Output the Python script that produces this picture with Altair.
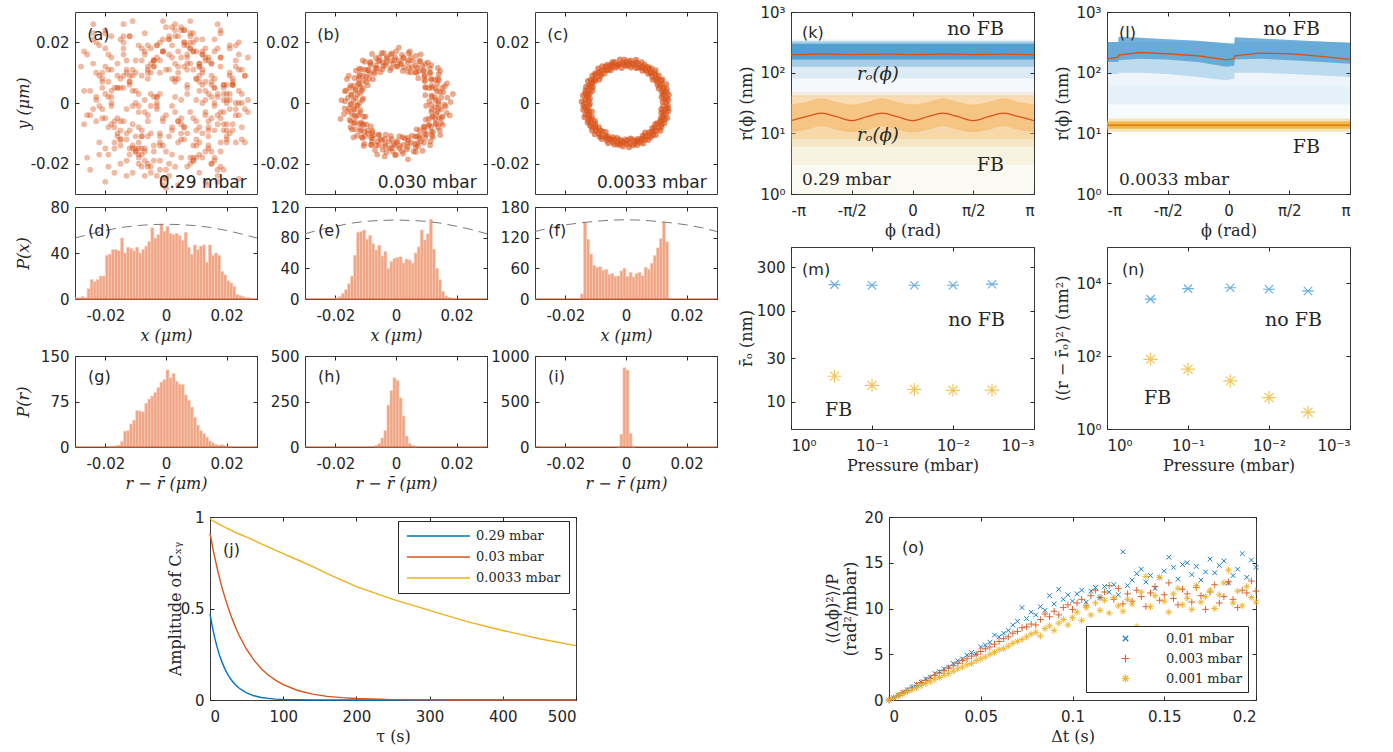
import math
import altair as alt
import pandas as pd

BLUE = "#0072BD"
RED = "#D95319"
YEL = "#EDB120"
INK = "#262626"
SANS = "DejaVu Sans"
SERIF = "DejaVu Serif"
PI = math.pi

# ---------------- (a)-(c) particle positions (nm) ----------------
a_x_nm = [-12, 7, 23, -25, 3, -8, 15, -19, 0, 11, -3, 26, -15, 9, -22, 18, -6, 4, 13, -27,
          21, -10, 6, -1, 16, -18, 25, -5, 10, -13, 2, 19, -24, 8, -7, 14, -20, 27, -2, 12,
          -16, 5, -9, 22, -26, 1, 17, -11, 24, -4, 9, -21, 15, -14, 3, 20, -8, 11, -23, 6,
          -17, 26, 0, 13, -6, 18, -12, 7, -28, 22, -3, 16, -19, 4, 10, -15, 25, -1, 8, -24,
          14, -9, 21, -5, 2, -13, 19, -20, 12, 5, -7, 27, -16, 9, -2, 15, -25, 6, 23, -11,
          1, 18, -14, 11, -22, 3, 20, -4, 13, -18, 8, -27, 24, -10, 17, -6, 0, 14, -21, 10,
          -3, 26, -12, 7, -17, 4, 19, -8, 12, -23, 16, -1, 22, -15, 5, -9, 25, -19, 2, 13,
          -5, 21, -26, 9, -13, 17, -2, 11, -20, 6, 24, -7, 15, -11, 3, -24, 18, -16, 8, 1,
          -10, 20, -4, 14, -18, 27, -6, 10, -14, 23, -22, 5, -1, 16, -9, 12, -25, 7, 19, -12,
          2, -17, 21, -3, 9, -20, 15, -8, 26, -15, 4, 11, -27, 18, -5, 13, -11, 22, -2, 6,
          -19, 24, -7, 17, -13, 0, 10, -23, 14, -4, 20, -16, 8, -10, 25, -6, 3, -21, 12, -1,
          18, -14, 7, -26, 15, -9, 23, -3, 11, -18, 5, 20, -12, 1, -8, 16, -2, 9, -15, 4,
          -4, 17, -20, 8, 1, -13, 22, -9, 12, -17, 5, 19, -2, -23, 10, -6, 14, -11, 3, 24,
          -15, 7, -1, 20, -18, 9, -7, 15, -21, 2, 11, -5, 25, -14, 6, -10, 18, -3, 13, -19,
          0, 21, -8, 16, -12, 4, -22, 9, -4, 23, -16, 11, 1, -9, 17, -6, 14, -20, 7, -2,
          19, -13, 5, -24, 12, -7, 20, -1, 8, -15, 15, -11, 3, 22, -18, 10, -5, 16, -8, 2,
          -21, 13, -3, 18, -10, 6, 24, -14, 0, 11, -6, 17, -19, 4, -12, 21, -2, 9, -16, 14,
          -9, 5, 19, -4, -22, 12, -7, 1, 16, -13, 8, -1, 23, -17, 10, -11, 3, 18, -5, 13,
          -20, 7, -8, 15, -3, 20, -14, 2, 11, -18, 6, -10, 22, -6, 14, -2, 9, -23, 17, -12,
          4, -15, 12, -7, 19, 0, -11, 16, -4, 7, -19, 21, -9, 3, 13, -16, 10, -1, 24, -13,
          5, -8, 18, -21, 8, -3, 15, -10, 1, 20, -6, 12, -17, 6, -14, 17, -2, 10, -20, 14,
          -5, 23, -12, 2, -7, 11, -24, 19, -9, 4, 16, -15, 8, -1, 21, -11, 13, -4, 7, -18]
a_y_nm = [9, -21, 14, -4, 26, -17, 2, 11, -25, -8, 19, -13, 5, 23, -1, -16, 12, -27, 7, 17,
          -10, 0, 24, -6, -19, 15, -12, 3, 21, -24, 8, -3, 13, 27, -15, -9, 18, 1, -22, 10,
          -5, 25, -18, 6, 16, -11, -26, 4, 20, -14, 11, -2, -20, 22, 7, -7, 14, -23, 2, 19,
          -13, 9, -28, 15, -4, 24, -17, 5, 12, -9, 0, 21, -21, 8, 17, -12, 3, -25, 13, 26,
          -6, -15, 10, 18, -1, -19, 6, 23, -10, 1, -24, 15, 9, -5, 20, -16, 4, -8, 12, 27,
          -20, -3, 16, 7, -13, 22, -11, 2, -26, 11, 18, -7, 0, 14, -22, 8, 25, -14, 5, -18,
          19, -2, -9, 13, -23, 10, 3, -15, 21, -6, 17, -27, 6, -12, 24, -1, 11, -17, 15, 1,
          -21, 9, -4, 20, -10, 26, -19, 4, 12, -8, -25, 16, 7, -14, 2, 23, -5, -11, 18, -24,
          10, 0, -16, 14, 22, -3, -20, 8, 5, -13, 19, -7, 27, -18, 3, 11, -22, 15, -9, 6,
          25, -15, 1, -2, 17, -26, 13, -11, 9, 21, -6, -17, 4, 12, -23, 18, -1, 7, -14, 24,
          -8, 16, -19, 2, 10, -4, -12, 20, -27, 14, 6, -10, 23, -16, 0, 11, -21, 8, 17, -5,
          -13, 26, 3, -18, 13, -3, 19, -24, 9, -7, 15, 1, -15, 22, -9, 5, -11, 17, -6, 12,
          12, -7, 3, -18, 21, -2, 8, -13, 16, 5, -10, -22, 14, 1, -6, 19, -15, 9, -3, 11,
          -20, 6, 17, -9, 2, -14, 23, -5, 10, -17, 13, -1, -8, 20, -12, 4, -21, 15, -4, 7,
          -16, 18, -11, 0, 22, -6, 9, -19, 12, -2, 5, -13, 16, -8, -24, 10, 3, -15, 19, -10,
          6, 14, -5, 21, -18, 1, -12, 17, -3, 8, -20, 11, 24, -7, 4, -14, 13, -1, 18, -9,
          7, -16, 2, 15, -11, 20, -4, 9, -22, 12, -6, 3, 16, -13, 22, -2, 10, -18, 5, -8,
          19, -12, 1, 14, -17, 6, -3, 21, -9, 11, -20, 17, 0, -6, 8, -15, 13, 23, -10, 4,
          -5, 16, -21, 9, 2, -13, 18, -8, 12, -1, 20, -16, 6, -11, 15, 3, -19, 10, -4, 7,
          22, -14, 0, 17, -7, 11, -23, 5, 14, -10, 2, 19, -17, 8, -3, 13, -9, 21, 4, -12,
          -18, 9, 15, -5, 20, -1, 6, -15, 11, 3, -21, 16, -8, 12, -6, 18, -13, 1, 24, -11,
          10, -4, 7, 19, -16, 13, -2, 5, -20, 17, 8, -9, 22, -14, 3, -7, 14, -19, 11, 0]

b_angle_deg = [2, 3, 6, 8, 9, 12, 14, 15, 18, 20, 21, 24, 26, 28, 29, 31, 34, 35, 37, 40,
               42, 43, 46, 48, 49, 52, 54, 55, 58, 60, 62, 63, 66, 68, 69, 72, 74, 76, 77, 80,
               82, 83, 86, 88, 90, 91, 94, 96, 97, 100, 102, 104, 105, 108, 110, 112, 113, 116, 118, 119,
               122, 124, 126, 127, 130, 132, 133, 136, 138, 140, 141, 144, 146, 148, 149, 152, 154, 155, 158, 160,
               162, 163, 166, 168, 169, 172, 174, 176, 177, 180, 182, 183, 186, 188, 190, 191, 194, 196, 198, 199,
               202, 204, 205, 208, 210, 212, 213, 216, 218, 219, 222, 224, 226, 227, 230, 232, 234, 235, 238, 240,
               241, 244, 246, 248, 249, 252, 254, 255, 258, 260, 262, 263, 266, 268, 270, 271, 274, 276, 277, 280,
               282, 284, 285, 288, 290, 291, 294, 296, 298, 299, 302, 304, 305, 308, 310, 312, 313, 316, 318, 320,
               321, 324, 326, 327, 330, 332, 334, 335, 338, 340, 341, 344, 346, 348, 349, 352, 354, 355, 358, 359,
               1, 4, 7, 10, 13, 16, 19, 23, 25, 27, 30, 33, 36, 39, 41, 44, 47, 50, 53, 56,
               59, 61, 64, 67, 70, 73, 75, 78, 81, 84, 87, 89, 92, 95, 98, 101, 103, 106, 109, 111,
               114, 117, 120, 123, 125, 128, 131, 134, 137, 139, 142, 145, 147, 150, 153, 156, 159, 161, 164, 167,
               170, 173, 175, 178, 181, 184, 187, 189, 192, 195, 197, 200, 203, 206, 209, 211, 214, 217, 220, 223,
               225, 228, 231, 233, 236, 239, 242, 245, 247, 250, 253, 256, 259, 261, 264, 267, 269, 272, 275, 278,
               281, 283, 286, 289, 292, 295, 297, 300, 303, 306, 309, 311, 314, 317, 319, 322, 325, 328, 331, 333,
               336, 339, 342, 345, 347, 350, 353, 356, 357]
b_radius_nm = [14, 11, 17, 13, 19, 12, 15, 10, 16, 14, 18, 12, 13, 16, 11, 15, 17, 14, 12, 18,
               15, 13, 16, 11, 14, 17, 13, 15, 12, 16, 14, 18, 13, 15, 11, 16, 14, 17, 12, 15,
               13, 16, 14, 12, 17, 15, 13, 16, 14, 11, 15, 17, 13, 14, 16, 12, 15, 18, 14, 13,
               16, 15, 12, 17, 14, 13, 15, 16, 12, 14, 17, 15, 13, 11, 16, 14, 18, 13, 15, 12,
               16, 14, 17, 13, 15, 11, 16, 14, 18, 12, 15, 13, 17, 14, 16, 12, 15, 19, 13, 14,
               16, 11, 15, 17, 14, 13, 16, 12, 15, 18, 14, 13, 16, 15, 12, 17, 14, 13, 15, 16,
               12, 14, 17, 15, 13, 11, 16, 14, 18, 13, 15, 12, 16, 14, 17, 13, 15, 11, 16, 14,
               19, 12, 15, 13, 17, 14, 16, 12, 15, 18, 13, 14, 16, 11, 15, 17, 14, 13, 16, 12,
               15, 18, 14, 13, 16, 15, 12, 17, 14, 13, 15, 16, 12, 14, 17, 15, 13, 10, 16, 14,
               18, 13, 15, 12, 16, 14, 17, 13, 15, 11, 16, 14, 18, 12, 15, 13, 17, 14, 16, 12,
               13.5, 15.8, 11.2, 16.9, 12.4, 14.7, 17.6, 10.8, 15.1, 13.0, 18.3, 12.1, 14.2, 16.4, 11.7, 15.5, 13.8, 17.1, 12.8, 14.9,
               16.2, 11.4, 13.3, 15.7, 12.6, 17.8, 14.4, 10.9, 16.6, 13.1, 15.2, 12.0, 14.6, 18.0, 13.7, 11.9, 16.0, 14.1, 12.3, 17.3,
               15.0, 13.4, 11.1, 16.8, 14.8, 12.7, 15.6, 13.9, 17.5, 12.2, 14.3, 16.3, 11.6, 15.3, 13.2, 17.0, 12.9, 14.5, 16.7, 11.3,
               15.9, 13.6, 12.5, 17.7, 14.0, 16.1, 11.8, 15.4, 13.0, 18.1, 12.4, 14.7, 16.5, 11.0, 15.0, 13.5, 17.2, 12.6, 14.2, 16.9,
               11.5, 15.7, 13.8, 12.1, 17.4, 14.9, 16.0, 12.8, 15.1, 13.3, 17.9, 11.9, 14.4, 16.6, 12.3, 15.5, 13.1, 17.0, 11.2, 14.6,
               16.2, 12.7, 15.8, 13.7, 18.2, 12.0, 14.1, 16.4, 11.6, 15.2, 13.4, 17.6, 12.5, 14.8, 16.8, 11.4, 15.6, 13.9, 12.2, 17.1,
               14.3, 16.1, 11.7, 15.3, 13.6, 17.8, 12.9, 14.0, 16.7]

c_angle_deg = [1, 2, 4, 6, 7, 9, 11, 12, 14, 15, 17, 19, 20, 22, 24, 25, 27, 28, 30, 32,
               33, 35, 37, 38, 40, 41, 43, 45, 46, 48, 50, 51, 53, 54, 56, 58, 59, 61, 63, 64,
               66, 67, 69, 71, 72, 74, 76, 77, 79, 80, 82, 84, 85, 87, 89, 90, 92, 93, 95, 97,
               98, 100, 102, 103, 105, 106, 108, 110, 111, 113, 115, 116, 118, 119, 121, 123, 124, 126, 128, 129,
               131, 132, 134, 136, 137, 139, 141, 142, 144, 145, 147, 149, 150, 152, 154, 155, 157, 158, 160, 162,
               163, 165, 167, 168, 170, 171, 173, 175, 176, 178, 180, 181, 183, 184, 186, 188, 189, 191, 193, 194,
               196, 197, 199, 201, 202, 204, 206, 207, 209, 210, 212, 214, 215, 217, 219, 220, 222, 223, 225, 227,
               228, 230, 232, 233, 235, 236, 238, 240, 241, 243, 245, 246, 248, 249, 251, 253, 254, 256, 258, 259,
               261, 262, 264, 266, 267, 269, 271, 272, 274, 275, 277, 279, 280, 282, 284, 285, 287, 288, 290, 292,
               293, 295, 297, 298, 300, 301, 303, 305, 306, 308, 310, 311, 313, 314, 316, 318, 319, 321, 323, 324,
               326, 327, 329, 331, 332, 334, 336, 337, 339, 340, 342, 344, 345, 347, 349, 350, 352, 353, 355, 357]
c_radius_nm = [13.2, 12.1, 14.0, 12.8, 13.6, 11.9, 14.4, 12.5, 13.0, 13.9, 12.3, 14.2, 12.9, 13.5, 11.8, 14.6, 12.6, 13.3, 12.0, 13.8,
               14.3, 12.4, 13.1, 12.7, 14.1, 11.7, 13.4, 12.2, 13.7, 14.5, 12.8, 13.0, 12.1, 14.2, 13.6, 12.5, 13.9, 12.9, 11.9, 14.0,
               13.3, 12.6, 14.4, 12.3, 13.5, 12.0, 13.8, 14.6, 12.7, 13.1, 11.8, 14.1, 13.4, 12.4, 13.7, 12.2, 14.3, 12.8, 13.2, 11.6,
               14.5, 12.9, 13.0, 12.5, 13.9, 12.1, 14.2, 13.6, 12.6, 13.3, 11.9, 14.0, 12.3, 13.8, 12.7, 14.4, 13.1, 12.0, 13.5, 14.6,
               12.4, 13.4, 12.2, 14.1, 13.7, 11.7, 14.3, 12.8, 13.2, 12.5, 13.9, 12.9, 14.5, 13.0, 12.1, 13.6, 12.6, 14.2, 11.8, 13.3,
               14.0, 12.3, 13.8, 12.7, 14.4, 13.1, 12.0, 13.5, 12.4, 14.6, 13.4, 11.9, 14.1, 12.2, 13.7, 12.8, 14.3, 13.2, 12.5, 11.6,
               13.9, 12.9, 14.5, 13.0, 12.1, 13.6, 12.6, 14.2, 13.3, 11.8, 14.0, 12.3, 13.8, 12.7, 14.4, 13.1, 12.0, 13.5, 14.6, 12.4,
               13.4, 12.2, 14.1, 13.7, 11.7, 14.3, 12.8, 13.2, 12.5, 13.9, 12.9, 14.5, 13.0, 12.1, 13.6, 12.6, 14.2, 11.9, 13.3, 14.0,
               12.3, 13.8, 12.7, 14.4, 13.1, 12.0, 13.5, 12.4, 14.6, 13.4, 11.8, 14.1, 12.2, 13.7, 12.8, 14.3, 13.2, 12.5, 13.9, 12.9,
               14.5, 13.0, 12.1, 13.6, 12.6, 14.2, 11.6, 13.3, 14.0, 12.3, 13.8, 12.7, 14.4, 13.1, 12.0, 13.5, 12.4, 14.6, 13.4, 11.9,
               14.1, 12.2, 13.7, 12.8, 14.3, 13.2, 12.5, 13.9, 12.9, 14.5, 13.0, 12.1, 13.6, 12.6, 14.2, 11.8, 13.3, 14.0, 12.3, 13.8]

# ---------------- histograms (1 nm bins; first left edge in nm) ----------------
d_first_edge = -30
d_counts = [1, 1, 2, 1, 9, 17, 15, 17, 20, 20, 38, 39, 43, 43, 42, 53, 40, 45, 44, 42,
            45, 40, 43, 46, 50, 62, 53, 56, 65, 59, 63, 57, 56, 57, 55, 51, 58, 45, 39, 47,
            43, 46, 47, 32, 47, 38, 40, 38, 24, 21, 16, 14, 11, 4, 3, 2, 1, 1]
e_first_edge = -20
e_counts = [1, 3, 7, 12, 20, 30, 57, 87, 88, 90, 78, 83, 72, 64, 70, 56, 62, 40, 49, 53,
            54, 55, 47, 52, 51, 47, 60, 68, 90, 77, 85, 104, 65, 40, 25, 10, 4, 2, 1]
f_first_edge = -15
f_counts = [10, 150, 117, 88, 66, 62, 63, 56, 58, 48, 50, 44, 45, 55, 60, 44, 52, 43, 50, 52,
            45, 62, 58, 70, 85, 100, 118, 150, 112]
g_first_edge = -19
g_counts = [1, 1, 2, 3, 9, 26, 27, 38, 44, 60, 59, 58, 72, 79, 84, 90, 98, 107, 111, 127,
            114, 121, 108, 103, 103, 86, 77, 66, 49, 36, 27, 22, 16, 10, 7, 4, 3, 4, 2, 1, 1]
h_first_edge = -7
h_counts = [8, 20, 50, 90, 230, 310, 380, 365, 270, 170, 60, 20, 8, 3]
i_first_edge = -3
i_counts = [2, 140, 870, 845, 150, 2]

env_x = [-0.03, -0.025, -0.02, -0.015, -0.01, -0.005, 0, 0.005, 0.01, 0.015, 0.02, 0.025, 0.03]
d_env = [53, 56.5, 59.6, 62.1, 63.7, 64.7, 65, 64.7, 63.7, 62.1, 59.6, 56.5, 53]
e_env = [85, 90.5, 94.8, 98.8, 101.3, 102.5, 103, 102.5, 101.3, 98.8, 94.8, 90.5, 85]
f_env = [132, 139.5, 145, 149, 152, 154.3, 155, 154.3, 152, 149, 145, 139.5, 132]

# ---------------- (k), (l) radius clouds (nm) ----------------
phi17 = [-3.1416, -2.7489, -2.3562, -1.9635, -1.5708, -1.1781, -0.7854, -0.3927, 0.0,
         0.3927, 0.7854, 1.1781, 1.5708, 1.9635, 2.3562, 2.7489, 3.1416]
phi_ends = [-3.1416, 3.1416]
k_ro_nofb = [198, 200, 203, 201, 199, 200, 202, 201, 198, 200, 203, 201, 199, 200, 202, 200, 198]
k_ro_fb = [16.2, 18.8, 21.5, 18.8, 16.2, 18.8, 21.5, 18.8, 16.2, 18.8, 21.5, 18.8, 16.2, 18.8, 21.5, 18.8, 16.2]
k_core_fb_lo = [10.5, 11.5, 13, 11.5, 10.5, 11.5, 13, 11.5, 10.5, 11.5, 13, 11.5, 10.5, 11.5, 13, 11.5, 10.5]
k_core_fb_hi = [30, 33, 38, 33, 30, 33, 38, 33, 30, 33, 38, 33, 30, 33, 38, 33, 30]
k_blue_lo = [40, 80, 125, 165]
k_blue_hi = [360, 340, 325, 300]
k_fb_lo = [1, 3, 6, 8]
k_fb_hi = [8, 12, 48, 42]

phi_l = [-3.1416, -2.85, -2.84, -2.3, -1.6, -0.8, -0.05, 0.15, 0.16, 0.8, 1.6, 2.4, 3.1416]
l_core_lo = [150, 150, 160, 170, 165, 150, 125, 130, 165, 170, 160, 150, 140]
l_core_hi = [320, 320, 390, 375, 355, 335, 305, 300, 385, 365, 345, 325, 310]
l_mid_lo = [95, 95, 100, 100, 95, 85, 75, 80, 100, 100, 95, 90, 85]
l_ro = [168, 180, 195, 215, 205, 190, 163, 170, 190, 210, 205, 185, 165]
l_flat_lo = [10, 30]
l_flat_hi = [60, 320]
l_fb_lo = [10.6, 11.9]
l_fb_hi = [17.5, 15.6]
l_ro_fb = 13.6

# ---------------- (m), (n) ----------------
pressure = [0.29, 0.1, 0.03, 0.01, 0.0033]
m_nofb = [193, 190, 190, 190, 195]
m_fb = [19.0, 15.1, 13.6, 13.3, 13.4]
n_nofb = [3700, 7200, 7600, 6900, 6200]
n_fb = [82, 44, 21, 7.3, 2.9]

# ---------------- (j) ----------------
j_labels = ["0.29 mbar", "0.03 mbar", "0.0033 mbar"]
j_tau = [0, 2, 4, 6, 8, 10, 13, 16, 20, 25, 30, 35, 40, 50, 60, 70, 80, 90, 100, 120,
         140, 160, 180, 200, 250, 300, 350, 400, 450, 500]
j_029 = [0.470, 0.425, 0.385, 0.348, 0.315, 0.285, 0.245, 0.211, 0.173, 0.135, 0.105, 0.082, 0.064,
         0.039, 0.023, 0.014, 0.009, 0.005, 0.003, 0.001, 0, 0, 0, 0, 0, 0, 0, 0, 0, 0]
j_003 = [0.910, 0.868, 0.827, 0.789, 0.752, 0.717, 0.667, 0.621, 0.565, 0.502, 0.446, 0.396, 0.351,
         0.276, 0.218, 0.171, 0.135, 0.107, 0.084, 0.052, 0.032, 0.020, 0.013, 0.008, 0.002, 0.001, 0, 0, 0, 0]
j_00033 = [0.990, 0.985, 0.980, 0.975, 0.970, 0.967, 0.960, 0.953, 0.945, 0.935, 0.925, 0.915, 0.907,
           0.890, 0.872, 0.853, 0.835, 0.818, 0.800, 0.765, 0.730, 0.690, 0.655, 0.620, 0.550, 0.490,
           0.430, 0.380, 0.335, 0.297]

# ---------------- (o) ----------------
o_labels = ["0.01 mbar", "0.003 mbar", "0.001 mbar"]
o_dt = [0, 0.0025, 0.005, 0.0075, 0.01, 0.0125, 0.015, 0.0175, 0.02, 0.0225, 0.025, 0.0275, 0.03,
        0.0325, 0.035, 0.0375, 0.04, 0.0425, 0.045, 0.0475, 0.05, 0.0525, 0.055, 0.0575, 0.06,
        0.0625, 0.065, 0.0675, 0.07, 0.0725, 0.075, 0.0775, 0.08, 0.0825, 0.085, 0.0875, 0.09,
        0.0925, 0.095, 0.0975, 0.1, 0.1025, 0.105, 0.1075, 0.11, 0.1125, 0.115, 0.1175, 0.12,
        0.1225, 0.125, 0.1275, 0.13, 0.1325, 0.135, 0.1375, 0.14, 0.1425, 0.145, 0.1475, 0.15,
        0.1525, 0.155, 0.1575, 0.16, 0.1625, 0.165, 0.1675, 0.17, 0.1725, 0.175, 0.1775, 0.18,
        0.1825, 0.185, 0.1875, 0.19, 0.1925, 0.195, 0.1975, 0.2]
o_001 = [0.0, 0.25, 0.55, 0.85, 1.1, 1.4, 1.7, 1.95, 2.3, 2.5, 2.9, 3.1, 3.4, 3.6, 4.0, 4.3, 4.5, 4.9,
         5.2, 5.0, 5.8, 6.0, 6.3, 7.1, 6.9, 7.3, 7.6, 8.2, 8.6, 10.1, 8.9, 9.6, 9.3, 10.2, 9.8, 11.4,
         10.5, 12.1, 11.0, 11.5, 10.8, 11.6, 12.0, 10.7, 11.9, 12.3, 11.2, 12.4, 11.8, 12.6, 11.5,
         16.2, 12.5, 13.1, 13.8, 14.3, 12.9, 13.6, 12.2, 13.4, 14.1, 15.6, 14.5, 13.2, 14.8, 15.0,
         13.7, 14.6, 13.1, 14.0, 15.4, 13.9, 14.7, 15.2, 12.8, 13.6, 14.3, 16.0, 13.4, 15.3, 14.5]
o_0003 = [0.0, 0.25, 0.5, 0.8, 1.05, 1.35, 1.6, 1.9, 2.15, 2.4, 2.7, 2.95, 3.2, 3.5, 3.75, 4.0, 4.3,
          4.5, 4.8, 5.0, 5.3, 5.6, 5.8, 6.1, 6.4, 6.7, 6.9, 7.3, 7.5, 7.9, 8.0, 8.3, 8.2, 8.8, 9.4,
          9.1, 9.7, 9.3, 10.1, 10.4, 9.9, 10.6, 11.0, 10.3, 11.4, 12.0, 11.2, 11.8, 12.5, 11.0, 12.2,
          10.5, 11.6, 10.8, 12.0, 11.3, 10.2, 11.7, 12.4, 10.9, 11.5, 12.8, 11.1, 10.4, 12.1, 11.6,
          10.7, 12.3, 11.4, 9.9, 11.8, 12.6, 10.6, 11.3, 12.9, 11.0, 10.1, 12.0, 11.7, 13.0, 11.9]
o_0001 = [0.0, 0.2, 0.45, 0.65, 0.9, 1.1, 1.35, 1.55, 1.8, 2.0, 2.25, 2.45, 2.7, 2.9, 3.15, 3.4, 3.6,
          3.85, 4.0, 4.3, 4.5, 4.7, 5.0, 5.2, 5.5, 5.6, 5.9, 6.2, 6.4, 6.6, 6.9, 7.2, 7.4, 7.0, 7.8,
          8.1, 7.6, 8.4, 8.8, 8.2, 9.0, 9.6, 8.7, 10.1, 9.3, 10.6, 9.8, 10.9, 9.5, 11.2, 10.3, 9.7,
          11.0, 10.5, 8.0, 11.8, 13.5, 10.2, 11.4, 13.4, 10.8, 9.6, 11.6, 12.2, 10.4, 11.1, 9.9, 12.5,
          10.7, 11.3, 12.0, 10.0, 11.5, 12.8, 14.2, 10.6, 11.9, 10.3, 12.4, 11.2, 10.7]

# ---------------- helpers ----------------
HY = "(datum.value < 0 ? '-' : '') + (datum.value == 0 ? '0' : format(abs(datum.value), '.2f'))"
G = "format(datum.value, '~g')"
POW_Y = "datum.value >= 1000 ? '10³' : datum.value >= 100 ? '10²' : datum.value >= 10 ? '10¹' : '10⁰'"
POW_P = "datum.value >= 1 ? '10⁰' : datum.value >= 0.1 ? '10⁻¹' : datum.value >= 0.01 ? '10⁻²' : '10⁻³'"
POW_N = "datum.value >= 10000 ? '10⁴' : datum.value >= 100 ? '10²' : '10⁰'"
PHI = "datum.value < -3 ? '-π' : datum.value < -1 ? '-π/2' : datum.value < 1 ? '0' : datum.value < 3 ? 'π/2' : 'π'"
PHI_TICKS = [-PI, -PI / 2, 0, PI / 2, PI]

XMARK = "M-0.7,-0.7L0.7,0.7M-0.7,0.7L0.7,-0.7"
PLUS = "M-1,0L1,0M0,-1L0,1"
STAR = "M-1,0L1,0M0,-1L0,1M-0.7,-0.7L0.7,0.7M-0.7,0.7L0.7,-0.7"
XBAR = "M-1,0L1,0M-0.7,-0.7L0.7,0.7M-0.7,0.7L0.7,-0.7"
STARBAR = "M-1.1,0L1.1,0M0,-1L0,1M-0.7,-0.7L0.7,0.7M-0.7,0.7L0.7,-0.7"
LEGEND_LINE = "M-1,0L9.5,0"

TX = -41  # y-title anchor, relative to the (inset) axis line
TICK = dict(ticks=True, tickSize=4, tickColor=INK, tickWidth=1, offset=-4, domain=False, grid=False)


def lin(dom):
    return alt.Scale(domain=dom, nice=False, zero=False)


def XA(values, title=None, labels=True, expr=None, **kw):
    d = dict(values=values, labels=labels, labelPadding=9, titlePadding=4, **TICK)
    d["title"] = title
    if expr:
        d["labelExpr"] = expr
    d.update(kw)
    return alt.Axis(**d)


def YA(values, title=None, expr=None, tx=None, **kw):
    d = dict(values=values, labelPadding=6, **TICK)
    d["title"] = title
    if expr:
        d["labelExpr"] = expr
    if tx is not None:
        d["titleX"] = tx
        d["titleBaseline"] = "bottom"
    d.update(kw)
    return alt.Axis(**d)


class Axes:
    """Shared scales; main axes (bottom/left), mirror tick-only axes (top/right), and axis-free encodings."""

    def __init__(self, xscale, yscale, xaxis, yaxis, xvals, yvals):
        self.X = alt.X("x:Q", scale=xscale, axis=xaxis)
        self.Y = alt.Y("y:Q", scale=yscale, axis=yaxis)
        self.Xn = alt.X("x:Q", scale=xscale, axis=None)
        self.Yn = alt.Y("y:Q", scale=yscale, axis=None)
        self.Xt = alt.X("x:Q", scale=xscale, axis=alt.Axis(orient="top", values=xvals, labels=False, title=None, **TICK))
        self.Yr = alt.Y("y:Q", scale=yscale, axis=alt.Axis(orient="right", values=yvals, labels=False, title=None, **TICK))

    def ticks(self, df):
        return alt.Chart(df).mark_point(opacity=0, size=1).encode(x=self.Xt, y=self.Yr)


def panel(layers, w, h):
    return alt.layer(*layers).resolve_axis(x="independent", y="independent").properties(width=w, height=h)


def texts(rows, A, align, font, size, style="normal", opacity=1):
    df = pd.DataFrame({"t": [r[0] for r in rows], "x": [r[1] for r in rows], "y": [r[2] for r in rows]})
    return alt.Chart(df).mark_text(align=align, baseline="middle", font=font, fontSize=size,
                                   fontStyle=style, color=INK, opacity=opacity).encode(x=A.Xn, y=A.Yn, text="t:N")


# ---------------- panels (a)-(c) ----------------
def scatter_panel(xs, ys, letter, plabel, first, size, opac):
    n = min(len(xs), len(ys))
    df = pd.DataFrame({"x": xs[:n], "y": ys[:n]})
    v = [-0.02, 0, 0.02]
    A = Axes(lin([-0.03, 0.03]), lin([-0.03, 0.03]), XA(v, labels=False),
             YA(v, title="y (μm)" if first else None, expr=HY, tx=-48, titleFontStyle="italic"), v, v)
    pts = alt.Chart(df).mark_circle(size=size, opacity=opac, color=RED, clip=True).encode(x=A.X, y=A.Y)
    layers = [pts, A.ticks(df),
              texts([(letter, -0.026, 0.0224)], A, "left", SANS, 16),
              texts([(plabel, 0.0266, -0.0264)], A, "right", SANS, 17)]
    if first:
        # invisible text so this row has the same top overhang as the "10³" labels of (k)
        layers.append(texts([("10³", 0, 0.03)], A, "center", SANS, 15, opacity=0))
    return panel(layers, 182, 182)


def polar_um(angles, radii):
    n = min(len(angles), len(radii))
    xs = [radii[q] * math.cos(math.radians(angles[q])) / 1000 for q in range(n)]
    ys = [radii[q] * math.sin(math.radians(angles[q])) / 1000 for q in range(n)]
    return xs, ys


pa = scatter_panel([v / 1000 for v in a_x_nm], [v / 1000 for v in a_y_nm], "(a)", "0.29 mbar", True, 34, 0.4)
bx, by = polar_um(b_angle_deg, b_radius_nm)
pb = scatter_panel(bx, by, "(b)", "0.030 mbar", False, 34, 0.5)
cx, cy = polar_um(c_angle_deg, c_radius_nm)
pc = scatter_panel(cx, cy, "(c)", "0.0033 mbar", False, 36, 0.65)


# ---------------- histograms ----------------
def hist_panel(first_edge, counts, ymax, yvals, letter, ly, xtitle, ytitle, h, env=None):
    edges = [first_edge + q for q in range(len(counts))]
    df = pd.DataFrame({"x": [e / 1000 for e in edges], "x2": [(e + 1) / 1000 for e in edges], "y": counts})
    xv = [-0.02, 0, 0.02]
    A = Axes(lin([-0.03, 0.03]), lin([0, ymax]),
             XA(xv, title=xtitle, expr=HY, titleFontStyle="italic"),
             YA(yvals, title=ytitle, expr=G, tx=-48, titleFontStyle="italic"), xv, yvals)
    bars = alt.Chart(df).mark_rect(color="#F0A585", stroke="#F8CFBC", strokeWidth=0.6).encode(
        x=A.X, x2="x2:Q", y=A.Y, y2=alt.datum(0))
    base = alt.Chart(pd.DataFrame({"y": [0]})).mark_rule(color=RED, strokeWidth=1.2).encode(y=A.Yn)
    layers = [bars, A.ticks(df), base]
    if env is not None:
        edf = pd.DataFrame({"x": env_x, "y": env})
        layers.append(alt.Chart(edf).mark_line(color="#7a7a7a", strokeDash=[10, 6], strokeWidth=1,
                                               clip=True).encode(x=A.Xn, y=A.Yn))
    layers.append(texts([(letter, -0.0257, ly)], A, "left", SANS, 16))
    return panel(layers, 182, h)


XT = "x (μm)"
RT = "r − r̄ (μm)"
pd_ = hist_panel(d_first_edge, d_counts, 80, [0, 40, 80], "(d)", 59, XT, "P(x)", 92, d_env)
pe = hist_panel(e_first_edge, e_counts, 120, [0, 40, 80, 120], "(e)", 88.7, XT, None, 92, e_env)
pf = hist_panel(f_first_edge, f_counts, 180, [0, 60, 120, 180], "(f)", 133, XT, None, 92, f_env)
pg = hist_panel(g_first_edge, g_counts, 150, [0, 75, 150], "(g)", 115, RT, "P(r)", 91)
ph = hist_panel(h_first_edge, h_counts, 500, [0, 250, 500], "(h)", 385, RT, None, 91)
pi_ = hist_panel(i_first_edge, i_counts, 1000, [0, 500, 1000], "(i)", 770, RT, None, 91)


# ---------------- (k), (l) ----------------
def band(xs, lo, hi, X, Y, color, op, interp="linear"):
    df = pd.DataFrame({"x": xs, "y": lo, "y2": hi})
    return alt.Chart(df).mark_area(color=color, opacity=op, interpolate=interp, clip=True).encode(
        x=X, y=Y, y2="y2:Q")


def line(xs, ys, A, color, width=1.3, interp="monotone"):
    df = pd.DataFrame({"x": xs, "y": ys})
    return alt.Chart(df).mark_line(color=color, strokeWidth=width, interpolate=interp, clip=True).encode(x=A.Xn, y=A.Yn)


def phi_axes():
    yv = [1, 10, 100, 1000]
    return Axes(lin([-PI, PI]), alt.Scale(type="log", domain=[1, 1000], nice=False),
                XA(PHI_TICKS, title="ϕ (rad)", expr=PHI),
                YA(yv, title="r(ϕ) (nm)", expr=POW_Y, tx=TX), PHI_TICKS, yv)


A = phi_axes()
k_layers = []
first = True
for lo, hi, col, op in zip(k_fb_lo, k_fb_hi, ["#DCD27E", "#DCD27E", "#F2A541", "#F2A541"], [0.10, 0.14, 0.16, 0.28]):
    k_layers.append(band(phi_ends, [lo, lo], [hi, hi], A.X if first else A.Xn, A.Y if first else A.Yn, col, op))
    first = False
k_layers.append(A.ticks(pd.DataFrame({"x": phi_ends, "y": [10, 10]})))
k_layers.append(band(phi17, k_core_fb_lo, k_core_fb_hi, A.Xn, A.Yn, "#F2A541", 0.42, "monotone"))
for lo, hi, op in zip(k_blue_lo, k_blue_hi, [0.04, 0.10, 0.25, 0.5]):
    k_layers.append(band(phi_ends, [lo, lo], [hi, hi], A.Xn, A.Yn, BLUE, op))
k_layers.append(line(phi17, k_ro_nofb, A, RED))
k_layers.append(line(phi17, k_ro_fb, A, RED))
k_layers.append(texts([("(k)", -2.857, 449)], A, "left", SANS, 16))
k_layers.append(texts([("rₒ(ϕ)", -1.435, 91), ("rₒ(ϕ)", -1.435, 9.0)], A, "left", SERIF, 18, "italic"))
k_layers.append(texts([("0.29 mbar", -2.857, 1.70)], A, "left", SERIF, 17))
k_layers.append(texts([("no FB", 2.366, 523), ("FB", 2.366, 3.0)], A, "right", SERIF, 19))
pk = panel(k_layers, 243, 182)

A = phi_axes()
l_layers = []
first = True
for lo, hi, op in zip(l_flat_lo, l_flat_hi, [0.03, 0.07]):
    l_layers.append(band(phi_ends, [lo, lo], [hi, hi], A.X if first else A.Xn, A.Y if first else A.Yn, BLUE, op))
    first = False
l_layers.append(A.ticks(pd.DataFrame({"x": phi_ends, "y": [10, 10]})))
l_layers.append(band(phi_l, l_mid_lo, l_core_hi, A.Xn, A.Yn, BLUE, 0.2))
l_layers.append(band(phi_l, l_core_lo, l_core_hi, A.Xn, A.Yn, BLUE, 0.45))
for lo, hi, op in zip(l_fb_lo, l_fb_hi, [0.3, 0.85]):
    l_layers.append(band(phi_ends, [lo, lo], [hi, hi], A.Xn, A.Yn, "#F0B030", op))
l_layers.append(line(phi_l, l_ro, A, RED, interp="linear"))
l_layers.append(line(phi_ends, [l_ro_fb, l_ro_fb], A, "#DD7A12", 1.6, "linear"))
l_layers.append(texts([("(l)", -2.83, 449)], A, "left", SANS, 16))
l_layers.append(texts([("0.0033 mbar", -2.83, 1.70)], A, "left", SERIF, 17))
l_layers.append(texts([("no FB", 2.366, 523), ("FB", 2.366, 5.95)], A, "right", SERIF, 19))
pl = panel(l_layers, 243, 182)


# ---------------- (m), (n) ----------------
def press_panel(nofb, fb, ydom, yticks, yexpr, ytitle, tl, tr, tfb):
    xv = [1, 0.1, 0.01, 0.001]
    A = Axes(alt.Scale(type="log", domain=[0.001, 1], reverse=True, nice=False),
             alt.Scale(type="log", domain=ydom, nice=False),
             XA(xv, title="Pressure (mbar)", expr=POW_P),
             YA(yticks, title=ytitle, tx=TX, expr=yexpr), xv, yticks)
    d1 = pd.DataFrame({"x": pressure, "y": nofb})
    p1 = alt.Chart(d1).mark_point(
        shape=XBAR, filled=False, color="#2F8FD8", size=140, strokeWidth=1.2).encode(x=A.X, y=A.Y)
    p2 = alt.Chart(pd.DataFrame({"x": pressure, "y": fb})).mark_point(
        shape=STARBAR, filled=False, color=YEL, size=170, strokeWidth=1.2).encode(x=A.Xn, y=A.Yn)
    return panel([p1, A.ticks(d1), p2,
                  texts([tl], A, "left", SANS, 16),
                  texts([tr], A, "right", SERIF, 19),
                  texts([tfb], A, "left", SERIF, 19)], 243, 182)


pm = press_panel(m_nofb, m_fb, [5, 500], [10, 30, 100, 300], G, "r̄ₒ (nm)",
                 ("(m)", 0.73, 279), ("no FB", 0.00228, 78.9), ("FB", 0.38, 8.1))
pn = press_panel(n_nofb, n_fb, [1, 100000], [1, 100, 10000], POW_N, "⟨(r − r̄ₒ)²⟩ (nm²)",
                 ("(n)", 0.653, 23800), ("no FB", 0.00222, 980), ("FB", 0.349, 7.2))

# ---------------- (j) ----------------
jrows = []
for lab, vals in zip(j_labels, [j_029, j_003, j_00033]):
    for t, v in zip(j_tau, vals):
        jrows.append({"x": t, "y": v, "s": lab})
jdf = pd.DataFrame(jrows)
xv, yv = [0, 100, 200, 300, 400, 500], [0, 0.5, 1]
A = Axes(lin([0, 500]), lin([0, 1]), XA(xv, title="τ (s)"),
         YA(yv, title="Amplitude of Cₓᵧ", expr=G, tx=-31), xv, yv)
jl = alt.Chart(jdf).mark_line(strokeWidth=1.4).encode(
    x=A.X, y=A.Y,
    color=alt.Color("s:N", scale=alt.Scale(domain=j_labels, range=[BLUE, RED, YEL]),
                    legend=alt.Legend(title=None, orient="none", legendX=188, legendY=4,
                                      symbolType=LEGEND_LINE, symbolSize=144, symbolStrokeWidth=1.5,
                                      symbolOffset=0, labelOffset=56, padding=8, rowPadding=7,
                                      labelFont=SERIF, labelFontSize=13, labelColor=INK,
                                      fillColor="white", strokeColor=INK)))
pj = panel([jl, A.ticks(jdf), texts([("(j)", 17.8, 0.82)], A, "left", SANS, 16)], 366, 183)

# ---------------- (o) ----------------
orows = []
for lab, vals in zip(o_labels, [o_001, o_0003, o_0001]):
    for t, v in zip(o_dt, vals):
        orows.append({"x": t, "y": v, "s": lab})
odf = pd.DataFrame(orows)
xv, yv = [0, 0.05, 0.1, 0.15, 0.2], [0, 5, 10, 15, 20]
A = Axes(lin([0, 0.2]), lin([0, 20]), XA(xv, title="Δt (s)", expr=G),
         YA(yv, title=["⟨(Δϕ)²⟩/P", "(rad²/mbar)"], titlePadding=5, titleLineHeight=18), xv, yv)
oleg = alt.Legend(title=None, orient="none", legendX=197, legendY=109, symbolSize=60, symbolStrokeWidth=1.2,
                  symbolOffset=27, labelOffset=34, padding=6, rowPadding=6,
                  labelFont=SERIF, labelFontSize=13, labelColor=INK, fillColor="white", strokeColor=INK)
op_ = alt.Chart(odf).mark_point(filled=False, size=45, strokeWidth=1, opacity=0.9).encode(
    x=A.X, y=A.Y,
    color=alt.Color("s:N", scale=alt.Scale(domain=o_labels, range=[BLUE, RED, YEL]), legend=oleg),
    shape=alt.Shape("s:N", scale=alt.Scale(domain=o_labels, range=[XMARK, PLUS, STAR]), legend=oleg))
po = panel([op_, A.ticks(odf), texts([("(o)", 0.0071, 16.6)], A, "left", SANS, 16)], 367, 183)

# ---------------- layout ----------------
SP = pd.DataFrame({"v": [0]})


def sp(w, h):
    return alt.Chart(SP).mark_point(opacity=0, size=1).encode(x=alt.value(0), y=alt.value(0)).properties(
        width=w, height=h, view=alt.ViewBackground(stroke="transparent"))


def hrow(charts, gap):
    return alt.hconcat(*charts, spacing=gap, bounds="flush")


left_block = alt.vconcat(hrow([pa, pb, pc], 48), hrow([pd_, pe, pf], 48), hrow([pg, ph, pi_], 48), spacing=4)
right_block = alt.vconcat(hrow([pk, pl], 73), hrow([pm, pn], 73), spacing=7)
top = alt.hconcat(left_block, right_block, spacing=18)
bottom = alt.hconcat(sp(135, 183), pj, sp(313, 183), po, spacing=0, bounds="flush").resolve_scale(
    color="independent", shape="independent")

chart = alt.vconcat(top, bottom, spacing=17).properties(
    padding={"left": 14, "top": 4, "right": 5, "bottom": 2},
    background="white",
).configure_view(
    stroke="#3a3a3a", strokeWidth=1
).configure_axis(
    labelFont=SANS, labelFontSize=15, labelColor=INK,
    titleFont=SERIF, titleFontSize=16, titleFontWeight="normal", titleColor=INK
)

chart.save("out.html", embed_options={"renderer": "svg", "actions": False})
